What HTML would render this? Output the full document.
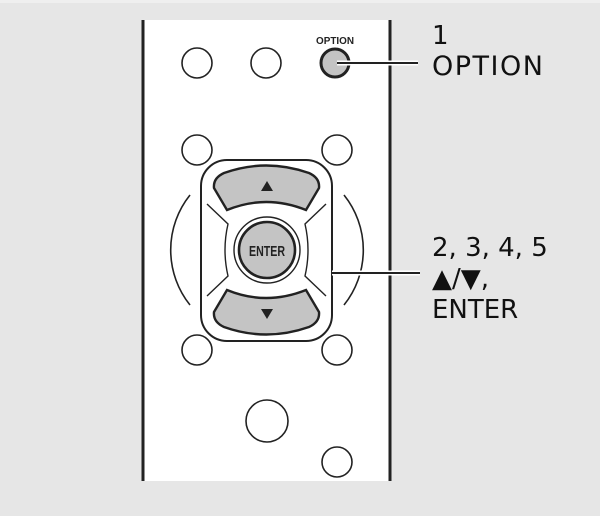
<!DOCTYPE html>
<html><head><style>
html,body{margin:0;padding:0;background:#e6e6e6;}
body{width:600px;height:516px;position:relative;overflow:hidden;}
.t{position:absolute;left:432px;font-family:"DejaVu Sans","Liberation Sans",sans-serif;font-size:26px;color:#111;line-height:1;}
</style></head><body>
<svg width="600" height="516" style="position:absolute;left:0;top:0">
<rect x="0" y="0" width="600" height="3" fill="#efefef"/>
<rect x="142" y="20" width="249" height="461" fill="#fff"/>
<line x1="143" y1="20" x2="143" y2="481" stroke="#222" stroke-width="3"/>
<line x1="390" y1="20" x2="390" y2="481" stroke="#222" stroke-width="3"/>
<g fill="none" stroke="#222" stroke-width="1.6">
<circle cx="197" cy="63" r="15"/>
<circle cx="266" cy="63" r="15"/>
<circle cx="197" cy="150" r="15"/>
<circle cx="337" cy="150" r="15"/>
<circle cx="197" cy="350" r="15"/>
<circle cx="337" cy="350" r="15"/>
<circle cx="267" cy="421" r="21"/>
<circle cx="337" cy="462" r="15"/>
</g>
<circle cx="335" cy="63" r="14" fill="#c4c4c4" stroke="#222" stroke-width="3"/>
<line x1="337" y1="63" x2="418" y2="63" stroke="#fff" stroke-width="5"/>
<line x1="337" y1="63" x2="418" y2="63" stroke="#222" stroke-width="2"/>
<text x="335" y="44" font-family="Liberation Sans Narrow,Liberation Sans,sans-serif" font-size="10" font-weight="bold" text-anchor="middle" fill="#222" textLength="38" lengthAdjust="spacingAndGlyphs">OPTION</text>
<path d="M190 195 A88 88 0 0 0 190 305" fill="none" stroke="#222" stroke-width="1.6"/>
<path d="M344 195 A88 88 0 0 1 344 305" fill="none" stroke="#222" stroke-width="1.6"/>
<rect x="201" y="160" width="131" height="181" rx="26" fill="#fff" stroke="#222" stroke-width="2"/>
<g fill="none" stroke="#222" stroke-width="1.4">
<path d="M207 204 L228 224 Q222 250 228 276 L207 296"/>
<path d="M326 204 L305 224 Q311 250 305 276 L326 296"/>
</g>
<path d="M214 188 Q213 178 224 173 Q266 158 309 173 Q320 178 319 188 L306 210 Q266 194 227 210 Z" fill="#c4c4c4" stroke="#222" stroke-width="2.4"/>
<path d="M214 312 Q213 322 224 327 Q266 342 309 327 Q320 322 319 312 L306 290 Q266 306 227 290 Z" fill="#c4c4c4" stroke="#222" stroke-width="2.4"/>
<polygon points="267,181 261,191 273,191" fill="#222"/>
<polygon points="267,319 261,309 273,309" fill="#222"/>
<circle cx="267" cy="250" r="33" fill="#fff" stroke="#222" stroke-width="1.4"/>
<circle cx="267" cy="250" r="28" fill="#c4c4c4" stroke="#222" stroke-width="2.6"/>
<text x="267" y="256" font-family="Liberation Sans Narrow,Liberation Sans,sans-serif" font-size="15" font-weight="bold" text-anchor="middle" fill="#222" textLength="36" lengthAdjust="spacingAndGlyphs">ENTER</text>
<line x1="332" y1="273" x2="420" y2="273" stroke="#fff" stroke-width="5"/>
<line x1="332" y1="273" x2="420" y2="273" stroke="#222" stroke-width="2"/>
</svg>
<div class="t" style="top:23px">1</div>
<div class="t" style="top:53px;font-size:27px;letter-spacing:1.5px">OPTION</div>
<div class="t" style="top:235px">2, 3, 4, 5</div>
<div class="t" style="top:266px">▲/▼,</div>
<div class="t" style="top:297px">ENTER</div>
</body></html>
